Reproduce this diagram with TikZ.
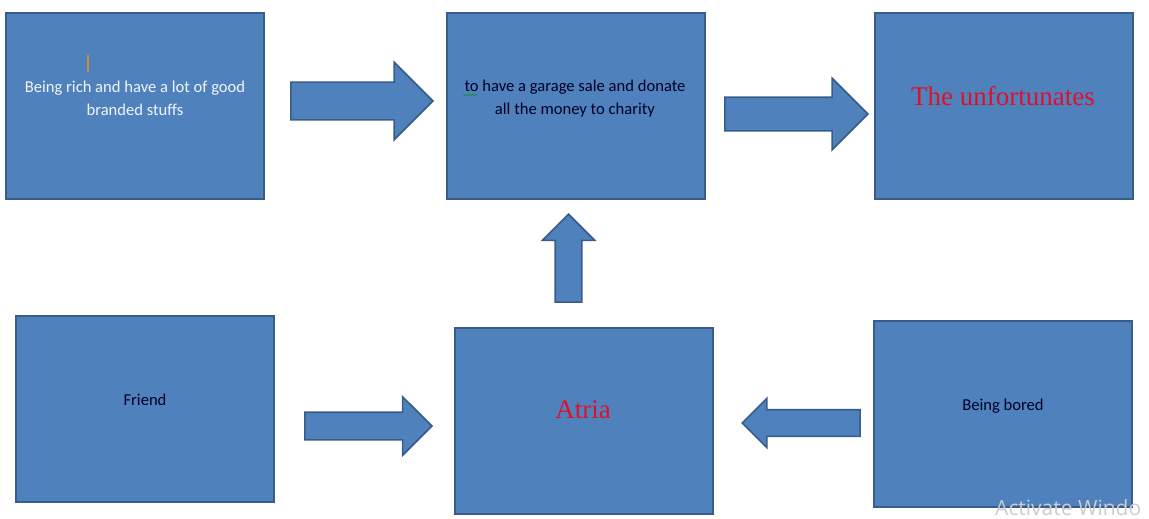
\documentclass[tikz,border=0pt]{standalone}
\usepackage{fontspec}
\setmainfont{Carlito}
\newfontfamily\redserif{Liberation Serif}
\newfontfamily\winfont{Open Sans}
\usetikzlibrary{shapes.arrows,decorations.pathmorphing}
\definecolor{boxfill}{HTML}{4F81BD}
\definecolor{boxline}{HTML}{385D8A}
\definecolor{redtext}{HTML}{E0102A}

\begin{document}
\begin{tikzpicture}[x=1pt,y=-1pt,
  box/.style={draw=boxline,line width=1.6pt,fill=boxfill,minimum width=258pt,minimum height=186pt,inner sep=0pt},
  txt/.style={font=\fontsize{16.6}{23}\selectfont,text={black!85!blue},align=center,inner sep=0pt},
  big/.style={font=\redserif\fontsize{27}{30}\selectfont,text=redtext,inner sep=0pt},
  fat/.style={single arrow,draw=boxline,line width=1.6pt,fill=boxfill,inner xsep=0pt,single arrow head indent=0pt,anchor=tip}]
  \useasboundingbox (0,0) rectangle (1149,519);

  % boxes
  \node[box] (rich)   at (135,106) {};
  \node[box] (sale)   at (576,106) {};
  \node[box] (unfort) at (1004,106) {};
  \node[box] (friend) at (145,409) {};
  \node[box] (atria)  at (584,421) {};
  \node[box] (bored)  at (1003,414) {};

  % texts
  \node[txt,text=white!92!boxfill] (richtxt) at (135,98.5) {Being rich and have a lot of good\\branded stuffs};
  \node[txt] (saletxt) at (575,98.5) {to have a garage sale and donate\\all the money to charity};
  \node[big] (unforttxt) at (1003,96) {The unfortunates};
  \node[txt] (friendtxt) at (145,400) {Friend};
  \node[big] (atriatxt) at (583,410) {Atria};
  \node[txt] (boredtxt) at (1003,406) {Being bored};

  % block arrows, placed by their tips
  \node[fat,minimum height=142pt,minimum width=76pt,inner ysep=18pt,single arrow head extend=20pt] (rich-sale) at (434,101) {};
  \node[fat,minimum height=143pt,minimum width=70pt,inner ysep=16pt,single arrow head extend=19pt] (sale-unfort) at (869,114) {};
  \node[fat,rotate=90,minimum height=88pt,minimum width=51pt,inner ysep=12.5pt,single arrow head extend=13pt] (atria-sale) at (568.5,213) {};
  \node[fat,minimum height=127pt,minimum width=57pt,inner ysep=13pt,single arrow head extend=15.5pt] (friend-atria) at (433,426) {};
  \node[fat,rotate=180,minimum height=118pt,minimum width=48pt,inner ysep=12.5pt,single arrow head extend=11.5pt] (bored-atria) at (741,423) {};

  % cursor and spelling mark
  \draw[color={rgb,255:red,200;green,138;blue,58},line width=1.5pt] (88,55) -- (88,72);
  \draw[green!60!black,decorate,decoration={snake,amplitude=0.8pt,segment length=3pt}] (463,95) -- (478,95);

  \node[anchor=base west,text=gray!40,font=\winfont\fontsize{21}{22}\selectfont,inner sep=0pt] (actwin) at (995,515) {Activate Windo};
\end{tikzpicture}
\end{document}
